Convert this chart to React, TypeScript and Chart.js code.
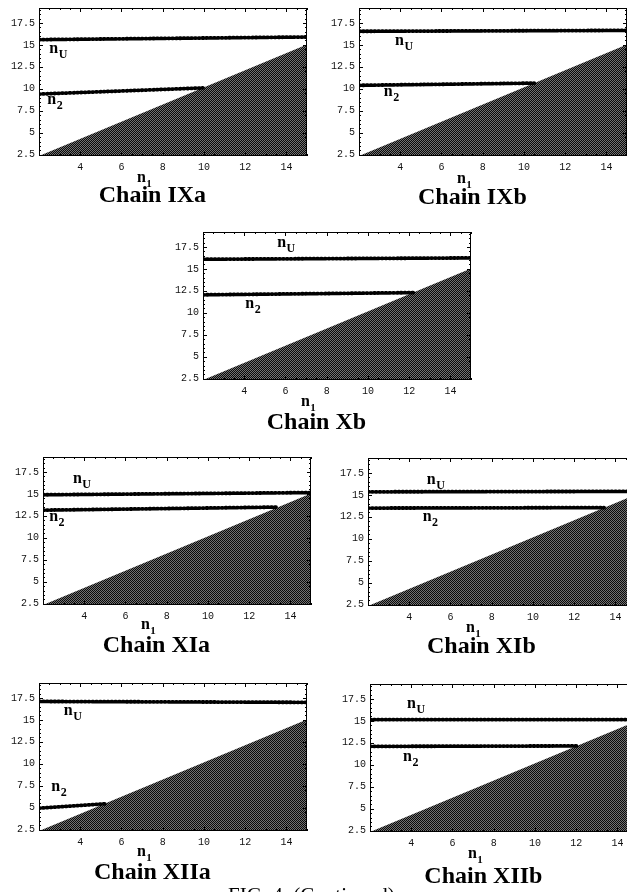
import React, { useEffect, useRef } from 'react';
import { Chart, registerables } from 'chart.js';

Chart.register(...registerables);

// ---------- data ----------
const PANEL_NAMES = ['IXa', 'IXb', 'Xb', 'XIa', 'XIb', 'XIIa', 'XIIb'];
const X_MIN = 2;
const X_MAX = 15;
const Y_MIN = 2.35;
const Y_MAX = 19.2;
const X_TICKS = [4, 6, 8, 10, 12, 14];
const Y_TICKS = [2.5, 5, 7.5, 10, 12.5, 15, 17.5];
// boundary of the shaded (excluded) region
const DIAG_X = [2, 15];
const DIAG_Y = [2.35, 15.05];
// n_U curve: value at n1 = 2 and at n1 = 15
const NU_X = [2, 15];
const NU_START = [15.6, 16.55, 16.1, 14.9, 15.35, 17.1, 15.15];
const NU_END = [15.9, 16.65, 16.25, 15.15, 15.4, 17.0, 15.15];
// n2 curve: value at n1 = 2, and the point where it meets the boundary
const N2_START_X = 2;
const N2_START_Y = [9.4, 10.4, 12.05, 13.15, 13.5, 4.95, 12.1];
const N2_END_X = [9.95, 10.5, 12.2, 13.4, 13.45, 5.2, 12.05];
const N2_END_Y = [10.1, 10.65, 12.3, 13.5, 13.55, 5.45, 12.15];

// ---------- layout (page pixels / label anchors in data units) ----------
const LEFT_W = 40;
const PAD_T = 5;
const PAD_R = 5;
const BOTTOM_H = 62;
const PLOT_W = 268;
const PLOT_H = 153;
const PANEL_POS = [
  [39, 3],
  [359, 3],
  [203, 227],
  [43, 452],
  [368, 453],
  [39, 678],
  [370, 679],
];
const LABEL_NU = [
  [2.5, 14.1],
  [3.75, 15.0],
  [5.6, 17.5],
  [3.45, 16.2],
  [4.85, 16.2],
  [3.2, 15.5],
  [3.8, 16.5],
];
const LABEL_N2 = [
  [2.4, 8.25],
  [3.2, 9.2],
  [4.05, 10.6],
  [2.3, 11.9],
  [4.65, 12.0],
  [2.6, 6.85],
  [3.6, 10.4],
];
const N1_X = 7.1;
const CHAIN_X = 7.5;
const N1_DY = [26, 27, 26, 24, 26, 25, 26];
const CHAIN_DY = [46, 48, 49, 47, 47, 48, 51];

function makePattern(): CanvasPattern | string {
  const c = document.createElement('canvas');
  c.width = 2;
  c.height = 2;
  const g = c.getContext('2d');
  if (!g) return '#3a3a3a';
  g.fillStyle = '#727272';
  g.fillRect(0, 0, 2, 2);
  g.fillStyle = '#0a0a0a';
  g.fillRect(0, 0, 1, 1);
  g.fillRect(1, 1, 1, 1);
  return g.createPattern(c, 'repeat') || '#3a3a3a';
}

function drawSub(
  ctx: CanvasRenderingContext2D,
  x: number,
  y: number,
  base: string,
  sub: string,
  size: number,
  subSize: number,
  center = false
) {
  ctx.save();
  ctx.fillStyle = '#000';
  ctx.textBaseline = 'alphabetic';
  ctx.textAlign = 'left';
  const fb = `bold ${size}px "Liberation Serif", "Times New Roman", serif`;
  const fs = `bold ${subSize}px "Liberation Serif", "Times New Roman", serif`;
  ctx.font = fb;
  const wb = ctx.measureText(base).width;
  ctx.font = fs;
  const ws = ctx.measureText(sub).width;
  const x0 = center ? x - (wb + ws) / 2 : x;
  ctx.font = fb;
  ctx.fillText(base, x0, y);
  ctx.font = fs;
  ctx.fillText(sub, x0 + wb + 0.5, y + Math.round(size * 0.3));
  ctx.restore();
}

function makeDecor(idx: number) {
  return {
    id: 'decor' + idx,
    afterDatasetsDraw(chart: any) {
      const ctx: CanvasRenderingContext2D = chart.ctx;
      const a = chart.chartArea;
      const xs = chart.scales.x;
      const ys = chart.scales.y;
      ctx.save();
      ctx.strokeStyle = '#000';
      ctx.lineWidth = 1;
      ctx.strokeRect(a.left + 0.5, a.top + 0.5, a.right - a.left - 1, a.bottom - a.top - 1);
      ctx.beginPath();
      for (let v = X_MIN; v <= X_MAX + 1e-9; v += 0.5) {
        const major = X_TICKS.includes(Math.round(v * 10) / 10);
        const L = major ? 4 : 2;
        const px = Math.round(xs.getPixelForValue(v)) + 0.5;
        ctx.moveTo(px, a.bottom);
        ctx.lineTo(px, a.bottom - L);
        ctx.moveTo(px, a.top);
        ctx.lineTo(px, a.top + L);
      }
      for (let v = 2.5; v <= Y_MAX + 1e-9; v += 0.5) {
        const major = Y_TICKS.includes(Math.round(v * 10) / 10);
        const L = major ? 4 : 2;
        const py = Math.round(ys.getPixelForValue(v)) + 0.5;
        ctx.moveTo(a.left, py);
        ctx.lineTo(a.left + L, py);
        ctx.moveTo(a.right, py);
        ctx.lineTo(a.right - L, py);
      }
      ctx.stroke();
      ctx.restore();

      drawSub(ctx, xs.getPixelForValue(LABEL_NU[idx][0]), ys.getPixelForValue(LABEL_NU[idx][1]), 'n', 'U', 16, 12);
      drawSub(ctx, xs.getPixelForValue(LABEL_N2[idx][0]), ys.getPixelForValue(LABEL_N2[idx][1]), 'n', '2', 16, 12);
      drawSub(ctx, xs.getPixelForValue(N1_X), a.bottom + N1_DY[idx], 'n', '1', 16, 11, true);
      ctx.save();
      ctx.fillStyle = '#000';
      ctx.font = 'bold 24px "Liberation Serif", "Times New Roman", serif';
      ctx.textAlign = 'center';
      ctx.textBaseline = 'alphabetic';
      ctx.fillText('Chain ' + PANEL_NAMES[idx], xs.getPixelForValue(CHAIN_X), a.bottom + CHAIN_DY[idx]);
      ctx.restore();
    },
  };
}

function Panel({ idx }: { idx: number }) {
  const ref = useRef<HTMLCanvasElement | null>(null);
  useEffect(() => {
    const canvas = ref.current;
    if (!canvas) return;
    const pattern = makePattern();
    const lineStyle = {
      borderColor: '#000',
      borderWidth: 3.8,
      borderDash: [1.2, 2.6],
      borderCapStyle: 'round' as const,
      pointRadius: 0,
      fill: false,
      tension: 0,
    };
    const tickFont = { family: '"Liberation Mono", "DejaVu Sans Mono", monospace', size: 10 };
    const chart = new Chart(canvas, {
      type: 'line',
      data: {
        datasets: [
          {
            ...lineStyle,
            data: NU_X.map((x, i) => ({ x, y: i === 0 ? NU_START[idx] : NU_END[idx] })),
          },
          {
            ...lineStyle,
            data: [
              { x: N2_START_X, y: N2_START_Y[idx] },
              { x: N2_END_X[idx], y: N2_END_Y[idx] },
            ],
          },
          {
            data: DIAG_X.map((x, i) => ({ x, y: DIAG_Y[i] })),
            borderWidth: 0,
            borderColor: 'rgba(0,0,0,0)',
            backgroundColor: pattern as any,
            fill: 'start',
            pointRadius: 0,
          },
        ],
      },
      options: {
        animation: false,
        responsive: false,
        maintainAspectRatio: false,
        layout: { padding: { top: PAD_T, right: PAD_R, left: 0, bottom: 0 } },
        plugins: { legend: { display: false }, tooltip: { enabled: false }, title: { display: false } },
        scales: {
          x: {
            type: 'linear',
            min: X_MIN,
            max: X_MAX,
            afterBuildTicks: (s: any) => {
              s.ticks = X_TICKS.map((v) => ({ value: v }));
            },
            afterFit: (s: any) => {
              s.height = BOTTOM_H;
            },
            grid: { display: false, drawTicks: false },
            border: { display: false },
            ticks: {
              padding: 5,
              font: tickFont,
              color: '#111',
              maxRotation: 0,
              autoSkip: false,
              callback: (v: any) => String(v),
            },
          },
          y: {
            type: 'linear',
            min: Y_MIN,
            max: Y_MAX,
            afterBuildTicks: (s: any) => {
              s.ticks = Y_TICKS.map((v) => ({ value: v }));
            },
            afterFit: (s: any) => {
              s.width = LEFT_W;
            },
            grid: { display: false, drawTicks: false },
            border: { display: false },
            ticks: {
              padding: 4,
              font: tickFont,
              color: '#111',
              autoSkip: false,
              callback: (v: any) => String(v),
            },
          },
        },
      },
      plugins: [makeDecor(idx)],
    });
    return () => chart.destroy();
  }, [idx]);

  const [px, py] = PANEL_POS[idx];
  const w = LEFT_W + PLOT_W + PAD_R;
  const h = PAD_T + PLOT_H + BOTTOM_H;
  return (
    <canvas
      ref={ref}
      width={w}
      height={h}
      style={{ position: 'absolute', left: px - LEFT_W, top: py - PAD_T, width: w, height: h, display: 'block' }}
    />
  );
}

export default function App() {
  return (
    <div
      style={{
        position: 'fixed',
        left: 0,
        top: 0,
        width: 627,
        height: 892,
        overflow: 'hidden',
        background: '#fff',
      }}
    >
      {PANEL_NAMES.map((_, i) => (
        <Panel key={i} idx={i} />
      ))}
      <div
        style={{
          position: 'absolute',
          left: 228,
          top: 883,
          fontFamily: '"Liberation Serif", "Times New Roman", serif',
          fontSize: 21,
          lineHeight: '24px',
          whiteSpace: 'nowrap',
          color: '#000',
        }}
      >
        FIG. 4. (Continued).
      </div>
    </div>
  );
}
